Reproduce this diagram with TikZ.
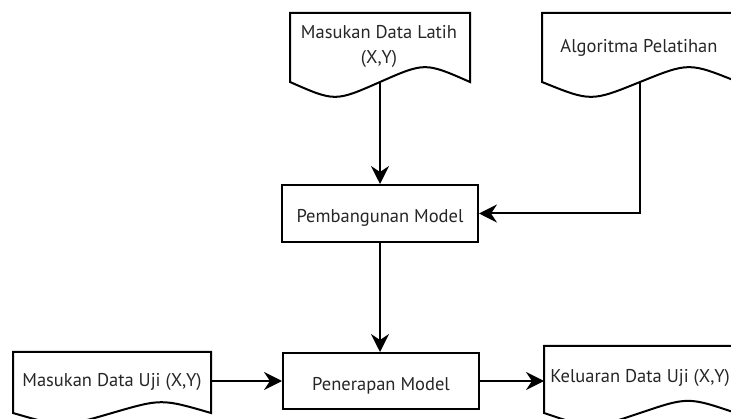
\documentclass[tikz,border=0pt]{standalone}
\usepackage{fontspec}
\setmainfont{PT Sans}
\usetikzlibrary{arrows.meta}

\begin{document}
\begin{tikzpicture}[x=1pt, y=-1pt, line width=2pt,
  txt/.style={font=\fontsize{18.5}{25}\selectfont, inner sep=0pt, text=black!85},
  lbl/.style={txt, anchor=base, align=center},
  proc/.style={draw, txt, minimum width=196pt, text height=19pt, text depth=0pt},
  flow/.style={-{Stealth[length=18pt, width=18pt, inset=6pt]}}]

  \useasboundingbox (0,0) rectangle (731,419);
  \clip (0,0) rectangle (731,419);

  % document shape: #1 left, #2 right, #3 top, #4 side end, #5 wave depth
  \newcommand\docpath[5]{%
    \draw (#1,#3) -- (#2,#3) -- (#2,#4)
      .. controls ({#1+0.75*(#2-#1)},{#4-0.9*#5}) .. ({(#1+#2)/2},#4)
      .. controls ({#1+0.25*(#2-#1)},{#4+0.9*#5}) .. (#1,#4) -- cycle;}

  % input / output documents
  \docpath{290}{470}{13}{82}{22}
  \docpath{542}{738}{13}{82}{22}
  \docpath{13}{211}{352}{413}{16}
  \docpath{544}{736}{346}{413}{18}

  \node[lbl] (latih) at (379,39) {Masukan Data Latih};
  \node[lbl] (latihxy) at (379,64) {(X,Y)};
  \node[lbl] (algo) at (639,53) {Algoritma Pelatihan};
  \node[lbl] (uji) at (112,387) {Masukan Data Uji (X,Y)};
  \node[lbl] (keluar) at (640,383) {Keluaran Data Uji (X,Y)};

  % process boxes
  \node[proc, minimum height=57pt] (bangun) at (380,213.5) {Pembangunan Model};
  \node[proc, minimum height=56pt] (terap) at (381,381) {Penerapan Model};

  % connection points on the documents
  \coordinate (latihout) at (380,82);
  \coordinate (algoout) at (640,82);
  \coordinate (ujiout) at (211,381);
  \coordinate (keluarin) at (544,381);

  % connectors
  \draw[flow] (latihout) -- (latihout |- bangun.north);
  \draw[flow] (algoout) |- (bangun.east);
  \draw[flow] (bangun.south) -- (bangun.south |- terap.north);
  \draw[flow] (ujiout) -- (terap.west);
  \draw[flow] (terap.east) -- (keluarin);
\end{tikzpicture}
\end{document}
